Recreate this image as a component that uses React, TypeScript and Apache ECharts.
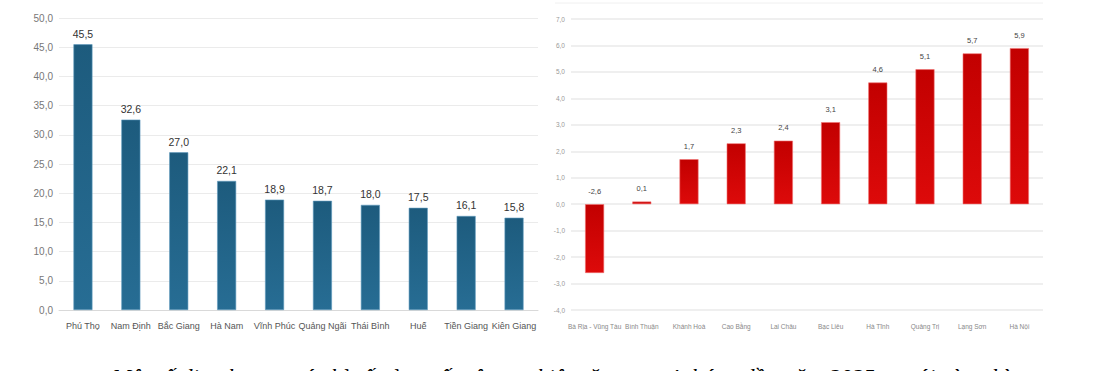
import React, { useEffect, useRef } from "react";
import * as echarts from "echarts";

const leftCategories = ["Phú Thọ", "Nam Định", "Bắc Giang", "Hà Nam", "Vĩnh Phúc", "Quảng Ngãi", "Thái Bình", "Huế", "Tiền Giang", "Kiên Giang"];
const leftValues = [45.5, 32.6, 27.0, 22.1, 18.9, 18.7, 18.0, 17.5, 16.1, 15.8];

const rightCategories = ["Bà Rịa - Vũng Tàu", "Bình Thuận", "Khánh Hoà", "Cao Bằng", "Lai Châu", "Bạc Liêu", "Hà Tĩnh", "Quảng Trị", "Lạng Sơn", "Hà Nội"];
const rightValues = [-2.6, 0.1, 1.7, 2.3, 2.4, 3.1, 4.6, 5.1, 5.7, 5.9];

const caption = "Một số địa phương có chỉ số sản xuất công nghiệp tăng cao 4 tháng đầu năm 2025 so với cùng kỳ";

const SANS = "'Liberation Sans', Arial, sans-serif";
const fmt = (v: number) => v.toFixed(1).replace(".", ",");

export default function App() {
  const ref = useRef<HTMLDivElement>(null);
  useEffect(() => {
    if (!ref.current) return;
    const chart = echarts.init(ref.current, undefined, { renderer: "svg" });
    chart.setOption({
      animation: false,
      backgroundColor: "#ffffff",
      grid: [
        { left: 59, right: 564, top: 18, bottom: 61, outerBoundsMode: "none", containLabel: false },
        { left: 571, right: 59, top: 19, bottom: 61, outerBoundsMode: "none", containLabel: false },
      ],
      xAxis: [
        {
          type: "category",
          gridIndex: 0,
          data: leftCategories,
          axisLine: { onZero: false, lineStyle: { color: "#d9d9d9" } },
          axisTick: { show: false },
          axisLabel: { color: "#555", fontSize: 9, fontFamily: SANS, margin: 11, interval: 0 },
        },
        {
          type: "category",
          gridIndex: 1,
          data: rightCategories,
          axisLine: { show: false, onZero: false },
          axisTick: { show: false },
          axisLabel: { color: "#888", fontSize: 6.5, fontFamily: SANS, margin: 13, interval: 0 },
        },
      ],
      yAxis: [
        {
          type: "value",
          gridIndex: 0,
          min: 0,
          max: 50,
          interval: 5,
          axisLine: { show: false },
          axisTick: { show: false },
          splitLine: { lineStyle: { color: "#ebebeb" } },
          axisLabel: { color: "#777", fontSize: 10, fontFamily: SANS, margin: 6, formatter: (v: number) => fmt(v) },
        },
        {
          type: "value",
          gridIndex: 1,
          min: -4,
          max: 7,
          interval: 1,
          axisLine: { show: false },
          axisTick: { show: false },
          splitLine: { lineStyle: { color: "#efefef", width: 2 } },
          axisLabel: { color: "#999", fontSize: 6.5, fontFamily: SANS, margin: 6, formatter: (v: number) => fmt(v) },
        },
      ],
      series: [
        {
          type: "bar",
          xAxisIndex: 0,
          yAxisIndex: 0,
          data: leftValues,
          barWidth: 19,
          itemStyle: {
            color: new echarts.graphic.LinearGradient(0, 0, 0, 1, [
              { offset: 0, color: "#1d5b7d" },
              { offset: 1, color: "#276d94" },
            ]),
            borderColor: "#5f9bbd",
            borderWidth: 0.6,
          },
          label: {
            show: true,
            position: "top",
            distance: 5,
            color: "#333",
            fontSize: 10.5,
            fontFamily: SANS,
            formatter: (p: any) => fmt(p.value),
          },
        },
        {
          type: "bar",
          xAxisIndex: 1,
          yAxisIndex: 1,
          data: rightValues,
          barWidth: 19,
          itemStyle: {
            color: new echarts.graphic.LinearGradient(0, 0, 0, 1, [
              { offset: 0, color: "#c20000" },
              { offset: 1, color: "#dd0a0a" },
            ]),
            borderColor: "#f07070",
            borderWidth: 0.6,
          },
          label: {
            show: true,
            position: "top",
            distance: 9,
            color: "#444",
            fontSize: 7.5,
            fontFamily: SANS,
            formatter: (p: any) => fmt(p.value),
          },
        },
      ],
      graphic: [
        {
          type: "line",
          shape: { x1: 555, y1: 3, x2: 1043, y2: 3 },
          style: { stroke: "#f0f0f0", lineWidth: 1 },
        },
        {
          type: "text",
          left: 112,
          top: 366,
          style: {
            text: caption,
            fontFamily: "'Liberation Serif', serif",
            fontStyle: "italic",
            fontSize: 23,
            fill: "#000",
          },
        },
      ],
    });
    return () => chart.dispose();
  }, []);
  return (
    <div
      ref={ref}
      style={{ position: "absolute", left: 0, top: 0, width: 1102, height: 371 }}
    />
  );
}
